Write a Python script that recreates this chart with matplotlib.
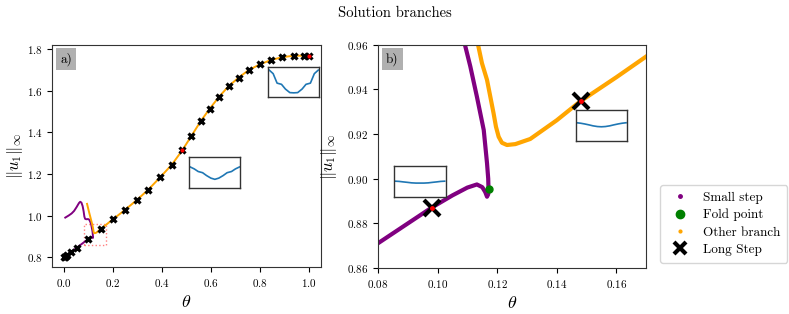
import matplotlib
matplotlib.use("Agg")
import matplotlib.pyplot as plt
from matplotlib.lines import Line2D
from matplotlib.patches import Rectangle

plt.rcParams['font.family'] = 'serif'
plt.rcParams['font.serif'] = ['cmr10', 'DejaVu Serif']
plt.rcParams['mathtext.fontset'] = 'cm'
plt.rcParams['axes.unicode_minus'] = False
plt.rcParams['axes.formatter.use_mathtext'] = True

# ---- data ----
# Small-step branch (purple), ordered along the path
small_theta = [0.0, 0.027, 0.052, 0.080, 0.098, 0.105, 0.110, 0.1132, 0.1150, 0.1160, 0.1166,
               0.1170, 0.1171, 0.1170, 0.1166, 0.1155, 0.1132, 0.1110, 0.1092, 0.106, 0.102,
               0.097, 0.090, 0.085, 0.082, 0.079, 0.075, 0.070, 0.065, 0.060, 0.050, 0.040,
               0.030, 0.018, 0.004]
small_norm = [0.800, 0.824, 0.846, 0.871, 0.887, 0.8925, 0.8960, 0.8974, 0.8962, 0.8940, 0.8919,
              0.8930, 0.8953, 0.9000, 0.9069, 0.9218, 0.9368, 0.9503, 0.9600, 0.970, 0.980,
              0.983, 0.982, 0.984, 0.995, 1.020, 1.045, 1.062, 1.066, 1.060, 1.040, 1.022,
              1.010, 1.000, 0.990]

# Other branch (orange)
other_theta = [0.093, 0.100, 0.107, 0.1136, 0.1149, 0.1166, 0.1177, 0.1188, 0.1196, 0.1205,
               0.1216, 0.1233, 0.1261, 0.1311, 0.1400, 0.1477, 0.160, 0.170, 0.198, 0.247,
               0.296, 0.344, 0.393, 0.440, 0.482, 0.520, 0.558, 0.595, 0.633, 0.672, 0.713,
               0.754, 0.799, 0.844, 0.891, 0.938, 0.982, 1.000]
other_norm = [1.056, 1.022, 0.990, 0.960, 0.9518, 0.9443, 0.9368, 0.9293, 0.9233, 0.9188,
              0.9161, 0.9151, 0.9155, 0.9178, 0.9262, 0.9345, 0.9455, 0.9548, 0.981, 1.026,
              1.074, 1.125, 1.185, 1.245, 1.313, 1.383, 1.454, 1.514, 1.571, 1.622, 1.663,
              1.699, 1.726, 1.747, 1.761, 1.768, 1.768, 1.768]

# Long steps (black X)
long_theta = [0.0, 0.002, 0.005, 0.010, 0.027, 0.052, 0.098, 0.148, 0.198, 0.247, 0.296, 0.344,
              0.393, 0.440, 0.482, 0.520, 0.558, 0.595, 0.633, 0.672, 0.713, 0.754, 0.799,
              0.844, 0.891, 0.938, 0.982, 1.000]
long_norm = [0.800, 0.802, 0.804, 0.809, 0.824, 0.846, 0.887, 0.935, 0.981, 1.026, 1.074, 1.125,
             1.185, 1.245, 1.313, 1.383, 1.454, 1.514, 1.571, 1.622, 1.663, 1.699, 1.726,
             1.747, 1.761, 1.768, 1.768, 1.768]

# Fold point
fold_theta = [0.1171]
fold_norm = [0.8953]

# Inset locations (red dots)
inset_theta = [0.098, 0.148, 0.482, 1.000]
inset_norm = [0.887, 0.935, 1.313, 1.768]

# Inset profiles
prof_x = [0.0, 0.08, 0.16, 0.25, 0.33, 0.42, 0.5, 0.58, 0.67, 0.75, 0.84, 0.92, 1.0]
prof_mid = [0.74, 0.66, 0.55, 0.50, 0.38, 0.27, 0.22, 0.27, 0.38, 0.50, 0.55, 0.66, 0.74]
prof_end = [1.00, 0.85, 0.45, 0.40, 0.20, 0.05, 0.04, 0.05, 0.20, 0.40, 0.45, 0.85, 1.00]
prof_b1 = [0.52, 0.51, 0.49, 0.47, 0.45, 0.44, 0.44, 0.44, 0.45, 0.47, 0.49, 0.51, 0.52]
prof_b2 = [0.62, 0.60, 0.57, 0.53, 0.49, 0.46, 0.45, 0.46, 0.49, 0.53, 0.57, 0.60, 0.62]

PURPLE = '#800080'
ORANGE = '#ffa500'

fig = plt.figure(figsize=(7.89, 3.14), dpi=100)
fig.suptitle('Solution branches', fontsize=10.5, y=0.98)

axL = fig.add_axes([0.066, 0.150, 0.341, 0.707])
axR = fig.add_axes([0.479, 0.147, 0.340, 0.710])

# Left panel
axL.plot(small_theta, small_norm, color=PURPLE, lw=1.4)
axL.plot(other_theta, other_norm, color=ORANGE, lw=1.4)
axL.plot(long_theta, long_norm, ls='none', marker='x', color='black', ms=5, mew=2.3)
axL.plot(inset_theta[2:], inset_norm[2:], ls='none', marker='o', color='red', ms=2)
axL.add_patch(Rectangle((0.08, 0.86), 0.09, 0.10, fill=False, ec='red', ls=':', lw=1, alpha=0.5))
axL.set_xlim(-0.05, 1.05)
axL.set_ylim(0.753, 1.82)
axL.set_xticks([0.0, 0.2, 0.4, 0.6, 0.8, 1.0])
axL.set_yticks([0.8, 1.0, 1.2, 1.4, 1.6, 1.8])
axL.set_xlabel(r'$\theta$', fontsize=13)
axL.set_ylabel(r'$\|u_1\|_\infty$', fontsize=12)
axL.yaxis.set_label_coords(-0.10, 0.5)
axL.xaxis.set_label_coords(0.5, -0.12)
axL.text(0.03, 0.965, 'a)', transform=axL.transAxes, fontsize=9.5, va='top', ha='left',
         bbox=dict(facecolor='#a8a8a8', edgecolor='none', alpha=0.9, pad=3))

# Right panel
axR.plot(small_theta, small_norm, color=PURPLE, lw=3)
axR.plot(other_theta, other_norm, color=ORANGE, lw=3)
axR.plot(fold_theta, fold_norm, ls='none', marker='o', color='green', ms=5)
axR.plot(long_theta, long_norm, ls='none', marker='x', color='black', ms=11, mew=3)
axR.plot(inset_theta, inset_norm, ls='none', marker='o', color='red', ms=2.5)
axR.set_xlim(0.08, 0.17)
axR.set_ylim(0.86, 0.96)
axR.set_xticks([0.08, 0.10, 0.12, 0.14, 0.16])
axR.set_yticks([0.86, 0.88, 0.90, 0.92, 0.94, 0.96])
axR.set_xlabel(r'$\theta$', fontsize=13)
axR.set_ylabel(r'$\|u_1\|_\infty$', fontsize=12)
axR.yaxis.set_label_coords(-0.145, 0.5)
axR.xaxis.set_label_coords(0.5, -0.12)
axR.text(0.03, 0.965, 'b)', transform=axR.transAxes, fontsize=9.5, va='top', ha='left',
         bbox=dict(facecolor='#a8a8a8', edgecolor='none', alpha=0.9, pad=3))

for ax in (axL, axR):
    ax.tick_params(labelsize=8)
    for s in ax.spines.values():
        s.set_color('#333333')

# Insets
def inset(rect, prof):
    a = fig.add_axes(rect)
    a.plot(prof_x, prof, color='#1f77b4', lw=1.2)
    a.set_xlim(-0.02, 1.02)
    a.set_ylim(-0.15, 1.15)
    a.set_xticks([])
    a.set_yticks([])
    for s in a.spines.values():
        s.set_color('#333333')
        s.set_linewidth(1.0)
    return a

inset([0.240, 0.401, 0.0646, 0.098], prof_mid)
inset([0.340, 0.690, 0.0646, 0.098], prof_end)
inset([0.4997, 0.372, 0.0651, 0.099], prof_b1)
inset([0.7297, 0.551, 0.0650, 0.098], prof_b2)

handles = [
    Line2D([], [], ls='none', marker='.', color=PURPLE, ms=5, label='Small step'),
    Line2D([], [], ls='none', marker='o', color='green', ms=6, label='Fold point'),
    Line2D([], [], ls='none', marker='.', color=ORANGE, ms=4, label='Other branch'),
    Line2D([], [], ls='none', marker='x', color='black', ms=9, mew=3, label='Long Step'),
]
fig.legend(handles=handles, loc='lower left', bbox_to_anchor=(0.828, 0.143), fontsize=9.5,
           handletextpad=0.8, borderpad=0.5, labelspacing=0.38)

fig.savefig('out.png', dpi=100)
